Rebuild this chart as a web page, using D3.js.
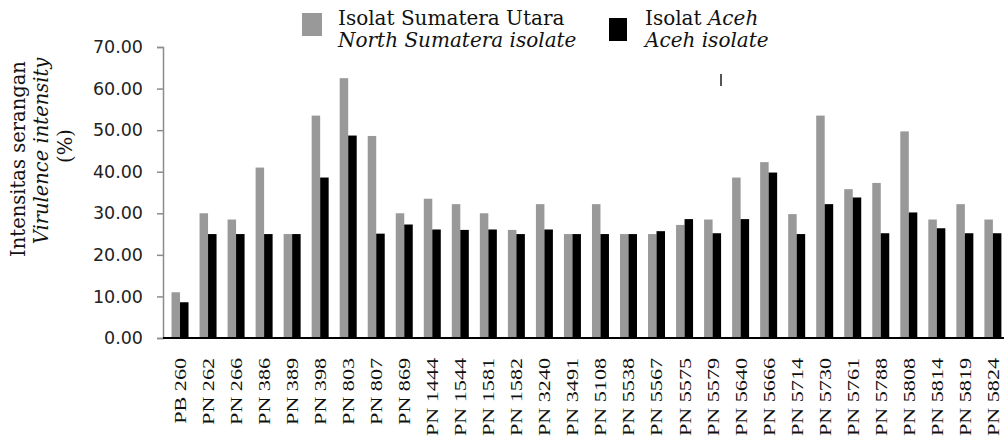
<!DOCTYPE html>
<html>
<head>
<meta charset="utf-8">
<script src="https://cdn.jsdelivr.net/npm/d3@7"></script>
<style>
  body { margin: 0; background: #fff; }
  svg { display: block; }
</style>
</head>
<body>
<div id="chart"></div>
<script>
// isolates (x categories)
const categories = ["PB 260", "PN 262", "PN 266", "PN 386", "PN 389", "PN 398", "PN 803", "PN 807", "PN 869",
  "PN 1444", "PN 1544", "PN 1581", "PN 1582", "PN 3240", "PN 3491", "PN 5108", "PN 5538", "PN 5567",
  "PN 5575", "PN 5579", "PN 5640", "PN 5666", "PN 5714", "PN 5730", "PN 5761", "PN 5788", "PN 5808",
  "PN 5814", "PN 5819", "PN 5824"];

// Isolat Sumatera Utara (grey)
const sumutValues = [11.0, 30.0, 28.5, 41.0, 25.0, 53.5, 62.5, 48.6, 30.0,
  33.5, 32.2, 30.0, 26.0, 32.2, 25.0, 32.2, 25.0, 25.0,
  27.2, 28.5, 38.6, 42.3, 29.8, 53.5, 35.8, 37.3, 49.7,
  28.5, 32.2, 28.5];

// Isolat Aceh (black)
const acehValues = [8.6, 25.0, 25.0, 25.0, 25.0, 38.6, 48.7, 25.1, 27.3,
  26.1, 26.0, 26.1, 25.0, 26.1, 25.0, 25.0, 25.0, 25.7,
  28.6, 25.2, 28.6, 39.8, 25.0, 32.2, 33.8, 25.2, 30.2,
  26.4, 25.2, 25.2];

const yTicks = [0, 10, 20, 30, 40, 50, 60, 70];

const width = 1004, height = 447;
const margin = { left: 163, top: 47, bottom: 338 };

const svg = d3.select("#chart").append("svg")
  .attr("width", width)
  .attr("height", height);

const data = categories.map((c, i) => ({ name: c, sumut: sumutValues[i], aceh: acehValues[i] }));

// scales
const x = d3.scaleBand()
  .domain(categories)
  .range([166, 166 + categories.length * 28.03])
  .padding(0);

const xSub = d3.scaleBand()
  .domain(["sumut", "aceh"])
  .range([x.bandwidth() / 2 - 8.5, x.bandwidth() / 2 + 8.5]);

const y = d3.scaleLinear().domain([0, 70]).range([margin.bottom, margin.top]);

// y axis
const yAxis = svg.append("g")
  .attr("transform", `translate(${margin.left},0)`)
  .call(d3.axisLeft(y).tickValues(yTicks).tickFormat(d3.format(".2f")).tickSize(6).tickPadding(14));
yAxis.select(".domain").attr("stroke", "#8c8c8c").attr("stroke-width", 1.5);
yAxis.selectAll(".tick line").attr("stroke", "#8c8c8c").attr("stroke-width", 1.5);
yAxis.selectAll(".tick text")
  .style("font-family", "'DejaVu Sans', sans-serif")
  .style("font-size", "17.5px")
  .attr("fill", "#222");

// bars
const groups = svg.selectAll(".grp")
  .data(data)
  .enter()
  .append("g")
  .attr("class", "grp")
  .attr("transform", d => `translate(${x(d.name)},0)`);

groups.append("rect")
  .attr("x", xSub("sumut"))
  .attr("y", d => y(d.sumut))
  .attr("width", xSub.bandwidth())
  .attr("height", d => y(0) - y(d.sumut))
  .attr("fill", "#999999");

groups.append("rect")
  .attr("x", xSub("aceh"))
  .attr("y", d => y(d.aceh))
  .attr("width", xSub.bandwidth())
  .attr("height", d => y(0) - y(d.aceh))
  .attr("fill", "#000");

// baseline
svg.append("line")
  .attr("x1", margin.left).attr("x2", width)
  .attr("y1", y(0)).attr("y2", y(0))
  .attr("stroke", "#000").attr("stroke-width", 2);

// x labels (rotated)
svg.selectAll(".xlab")
  .data(categories)
  .enter()
  .append("text")
  .attr("class", "xlab")
  .attr("transform", d => `translate(${x(d) + x.bandwidth() / 2},358) rotate(-90) scale(1.3,1)`)
  .attr("text-anchor", "end")
  .attr("dy", "0.35em")
  .style("font-family", "'Liberation Serif', serif")
  .style("font-size", "17px")
  .attr("fill", "#111")
  .text(d => d);

// y title
const titleFont = "'DejaVu Serif', serif";
[["Intensitas serangan", 25, 159, "normal"],
 ["Virulence intensity", 48, 151, "italic"],
 ["(%)", 72, 146, "normal"]].forEach(([t, tx, ty, st]) => {
  svg.append("text")
    .attr("transform", `translate(${tx},${ty}) rotate(-90)`)
    .attr("text-anchor", "middle")
    .style("font-family", titleFont)
    .style("font-size", "19.5px")
    .style("font-style", st)
    .attr("fill", "#111")
    .text(t);
});

// legend
const legend = svg.append("g");
legend.append("rect").attr("x", 302).attr("y", 13).attr("width", 20).attr("height", 23).attr("fill", "#999999");
legend.append("rect").attr("x", 609).attr("y", 18).attr("width", 18).attr("height", 23).attr("fill", "#000");

const leg1 = legend.append("text")
  .attr("x", 338).attr("y", 25)
  .style("font-family", titleFont).style("font-size", "20px").attr("fill", "#111");
leg1.append("tspan").text("Isolat Sumatera Utara");
leg1.append("tspan").attr("x", 338).attr("y", 47).style("font-style", "italic").text("North Sumatera isolate");

const leg2 = legend.append("text")
  .attr("x", 645).attr("y", 25)
  .style("font-family", titleFont).style("font-size", "20px").attr("fill", "#111");
leg2.append("tspan").text("Isolat ");
leg2.append("tspan").style("font-style", "italic").text("Aceh");
leg2.append("tspan").attr("x", 645).attr("y", 47).style("font-style", "italic").text("Aceh isolate");

// small stray mark in the original figure
svg.append("line")
  .attr("x1", 721).attr("x2", 721).attr("y1", 74).attr("y2", 86)
  .attr("stroke", "#555").attr("stroke-width", 2);
</script>
</body>
</html>
